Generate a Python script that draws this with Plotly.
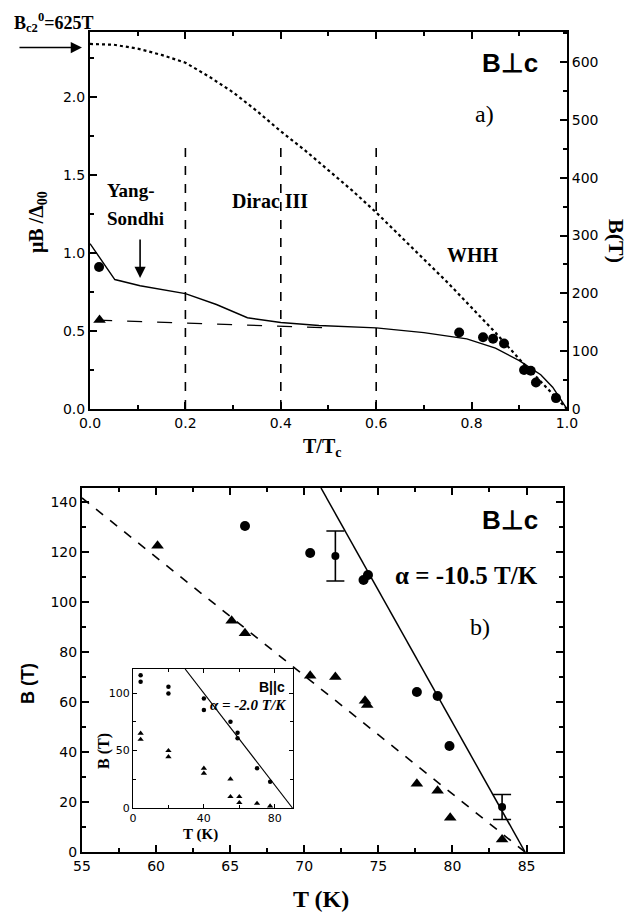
import plotly.graph_objects as go

# ---------------- Panel a) data ----------------
whh_t = [0, 0.05, 0.1, 0.15, 0.2, 0.25, 0.3, 0.35, 0.4, 0.45, 0.5, 0.55, 0.6, 0.65, 0.7, 0.75, 0.8, 0.85, 0.9, 0.95, 1.0]
whh_y = [2.34, 2.335, 2.31, 2.27, 2.22, 2.13, 2.03, 1.91, 1.78, 1.66, 1.53, 1.40, 1.26, 1.11, 0.96, 0.81, 0.65, 0.49, 0.32, 0.16, 0.0]

solid_t = [0, 0.052, 0.105, 0.2, 0.265, 0.33, 0.4, 0.48, 0.6, 0.7, 0.79, 0.85, 0.9, 0.945, 0.97, 1.0]
solid_y = [1.06, 0.83, 0.79, 0.74, 0.67, 0.585, 0.555, 0.535, 0.52, 0.49, 0.45, 0.39, 0.31, 0.22, 0.14, 0.0]

dash_t = [0.015, 0.5]
dash_y = [0.57, 0.52]

circ_t = [0.019, 0.774, 0.824, 0.845, 0.868, 0.91, 0.924, 0.935, 0.977]
circ_y = [0.91, 0.49, 0.46, 0.45, 0.42, 0.25, 0.245, 0.17, 0.07]

tri_t = [0.02]
tri_y = [0.57]

region_bounds = [0.2, 0.4, 0.6]
region_top = 1.69

bc2_0 = 625  # T

# ---------------- Panel b) data ----------------
b_circ_T = [66.0, 70.4, 74.0, 74.3, 77.6, 79.0, 79.8]
b_circ_B = [130.4, 119.6, 108.8, 110.8, 64.0, 62.4, 42.4]
b_err_T = [72.1, 83.35]
b_err_B = [118.4, 18.0]
b_err_v = [10.0, 5.0]

b_tri_T = [60.1, 65.1, 66.0, 70.4, 72.1, 74.1, 74.25, 77.6, 79.0, 79.85, 83.35]
b_tri_B = [122.5, 92.5, 87.5, 70.5, 70.0, 60.5, 58.8, 27.3, 24.5, 13.7, 5.0]

solid_fit_T = [71.13, 84.9]
solid_fit_B = [145.6, 0.0]
dash_fit_T = [55.0, 84.9]
dash_fit_B = [141.6, 0.0]

# ---------------- Inset data ----------------
in_circ_T = [4.3, 4.3, 20, 20, 40, 40, 55, 59, 59, 70, 77.4]
in_circ_B = [115.6, 109.8, 105.5, 99.7, 95.3, 85.2, 75.0, 65.5, 60.6, 34.5, 22.9]
in_tri_T = [4.3, 4.3, 20, 20, 40, 40, 55, 55, 60, 60, 70, 77.4]
in_tri_B = [65.0, 59.7, 49.9, 44.6, 34.5, 30.2, 25.2, 9.9, 9.9, 4.6, 4.0, 1.7]
in_fit_T = [29.4, 90.0]
in_fit_B = [121.0, 0.0]

fig = go.Figure()

# Panel a traces
fig.add_trace(go.Scatter(x=whh_t, y=whh_y, mode='lines', line=dict(color='black', width=2.2, dash='dot'),
                         xaxis='x', yaxis='y', showlegend=False))
fig.add_trace(go.Scatter(x=solid_t, y=solid_y, mode='lines', line=dict(color='black', width=1.4),
                         xaxis='x', yaxis='y', showlegend=False))
fig.add_trace(go.Scatter(x=dash_t, y=dash_y, mode='lines', line=dict(color='black', width=1.2, dash='longdash'),
                         xaxis='x', yaxis='y', showlegend=False))
for xb in region_bounds:
    fig.add_trace(go.Scatter(x=[xb, xb], y=[0, region_top], mode='lines',
                             line=dict(color='black', width=1.6, dash='dash'),
                             xaxis='x', yaxis='y', showlegend=False))
fig.add_trace(go.Scatter(x=circ_t, y=circ_y, mode='markers', marker=dict(symbol='circle', size=10, color='black'),
                         xaxis='x', yaxis='y', showlegend=False, cliponaxis=False))
fig.add_trace(go.Scatter(x=tri_t, y=tri_y, mode='markers', marker=dict(symbol='triangle-up', size=11, color='black'),
                         xaxis='x', yaxis='y', showlegend=False, cliponaxis=False))
# invisible trace to activate right axis
fig.add_trace(go.Scatter(x=[0.5], y=[300], mode='markers', marker=dict(opacity=0),
                         xaxis='x', yaxis='y2', showlegend=False, hoverinfo='skip'))

# Panel b traces
fig.add_trace(go.Scatter(x=solid_fit_T, y=solid_fit_B, mode='lines', line=dict(color='black', width=1.5),
                         xaxis='x2', yaxis='y3', showlegend=False))
fig.add_trace(go.Scatter(x=dash_fit_T, y=dash_fit_B, mode='lines', line=dict(color='black', width=1.6, dash='dash'),
                         xaxis='x2', yaxis='y3', showlegend=False))
fig.add_trace(go.Scatter(x=b_circ_T, y=b_circ_B, mode='markers', marker=dict(symbol='circle', size=10, color='black'),
                         xaxis='x2', yaxis='y3', showlegend=False))
fig.add_trace(go.Scatter(x=b_err_T, y=b_err_B, mode='markers', marker=dict(symbol='circle', size=8, color='black'),
                         error_y=dict(type='data', array=b_err_v, visible=True, color='black', thickness=1.6, width=9),
                         xaxis='x2', yaxis='y3', showlegend=False))
fig.add_trace(go.Scatter(x=b_tri_T, y=b_tri_B, mode='markers', marker=dict(symbol='triangle-up', size=11, color='black'),
                         xaxis='x2', yaxis='y3', showlegend=False))

# Inset traces
fig.add_trace(go.Scatter(x=in_fit_T, y=in_fit_B, mode='lines', line=dict(color='black', width=1.1),
                         xaxis='x3', yaxis='y4', showlegend=False))
fig.add_trace(go.Scatter(x=in_circ_T, y=in_circ_B, mode='markers', marker=dict(symbol='circle', size=4.5, color='black'),
                         xaxis='x3', yaxis='y4', showlegend=False))
fig.add_trace(go.Scatter(x=in_tri_T, y=in_tri_B, mode='markers', marker=dict(symbol='triangle-up', size=5.5, color='black'),
                         xaxis='x3', yaxis='y4', showlegend=False))

tickfont = dict(family='DejaVu Sans, Liberation Sans, Arial', size=14, color='black')
ax_common = dict(showline=True, linecolor='black', ticks='inside', tickcolor='black',
                 showgrid=False, zeroline=False, tickfont=tickfont)
inset_font = dict(family='DejaVu Sans, Liberation Sans, Arial', size=11, color='black')

fig.update_layout(
    width=633, height=913, margin=dict(l=0, r=0, t=0, b=0, autoexpand=False),
    paper_bgcolor='white', plot_bgcolor='white', showlegend=False,
    xaxis=dict(domain=[0.1422, 0.8957], anchor='y', range=[0, 1], dtick=0.2, tickformat='.1f',
               linewidth=2, ticklen=7, tickwidth=2, mirror='ticks',
               minor=dict(dtick=0.1, ticks='inside', ticklen=4, tickcolor='black', tickwidth=1.5), **ax_common),
    yaxis=dict(domain=[0.552, 0.965], anchor='x', range=[0, 2.417], dtick=0.5, tickformat='.1f',
               linewidth=2, ticklen=7, tickwidth=2, mirror=False,
               minor=dict(dtick=0.25, ticks='inside', ticklen=4, tickcolor='black', tickwidth=1.5), **ax_common),
    yaxis2=dict(overlaying='y', side='right', anchor='x', range=[0, 652], dtick=100,
                linewidth=2, ticklen=7, tickwidth=2,
                minor=dict(dtick=50, ticks='inside', ticklen=4, tickcolor='black', tickwidth=1.5), **ax_common),
    xaxis2=dict(domain=[0.1295, 0.8894], anchor='y3', range=[55, 87.46], dtick=5,
                linewidth=2, ticklen=7, tickwidth=2, mirror='ticks',
                minor=dict(dtick=2.5, ticks='inside', ticklen=4, tickcolor='black', tickwidth=1.5), **ax_common),
    yaxis3=dict(domain=[0.0668, 0.4655], anchor='x2', range=[0, 145.6], dtick=20,
                linewidth=2, ticklen=7, tickwidth=2, mirror='ticks',
                minor=dict(dtick=10, ticks='inside', ticklen=4, tickcolor='black', tickwidth=1.5), **ax_common),
    xaxis3=dict(domain=[0.2101, 0.4629], anchor='y4', range=[0, 90.3], dtick=40,
                linewidth=1, ticklen=4, tickwidth=1, mirror='ticks',
                minor=dict(dtick=20, ticks='inside', ticklen=3, tickcolor='black'),
                showline=True, linecolor='black', ticks='inside', tickcolor='black',
                showgrid=False, zeroline=False, tickfont=inset_font),
    yaxis4=dict(domain=[0.115, 0.2673], anchor='x3', range=[0, 121], dtick=50,
                linewidth=1, ticklen=4, tickwidth=1, mirror='ticks',
                minor=dict(dtick=25, ticks='inside', ticklen=3, tickcolor='black'),
                showline=True, linecolor='black', ticks='inside', tickcolor='black',
                showgrid=False, zeroline=False, tickfont=inset_font),
)

serif_b = 'Liberation Serif, Times New Roman'
sans_b = 'Liberation Sans, Arial'


def ann(text, x, y, size, family=serif_b, angle=0, xanchor='center', yanchor='middle', align='center'):
    fig.add_annotation(text=text, x=x, y=y, xref='paper', yref='paper', showarrow=False,
                       font=dict(family=family, size=size, color='black'), textangle=angle,
                       xanchor=xanchor, yanchor=yanchor, align=align)


# Panel a texts
ann('<b>B<sub>c2</sub><sup>0</sup>=625T</b>', 0.0853, 0.9759, 18)
ann('<b>B\u22a5c</b>', 0.853, 0.931, 26, family=sans_b, xanchor='right')
ann('a)', 0.766, 0.875, 24)
ann('<b>Yang-</b>', 0.1659, 0.7908, 19, xanchor='left')
ann('<b>Sondhi</b>', 0.1659, 0.7612, 19, xanchor='left')
ann('<b>Dirac III</b>', 0.4265, 0.7798, 20)
ann('<b>WHH</b>', 0.7472, 0.7207, 20)
ann('<b>\u03bcB /\u0394<sub>00</sub></b>', 0.0585, 0.7568, 20, angle=-90)
ann('<b>B(T)</b>', 0.9747, 0.736, 22, angle=90)
ann('<b>T/T<sub>c</sub></b>', 0.5087, 0.5104, 20)

# Arrows in panel a
fig.add_annotation(x=0.1295, y=bc2_0, xref='paper', yref='y2', ax=-64, ay=0, text='', showarrow=True,
                   arrowhead=2, arrowsize=1.4, arrowwidth=1.6, arrowcolor='black')
fig.add_annotation(x=0.105, y=0.84, xref='x', yref='y', ax=0, ay=-40, text='', showarrow=True,
                   arrowhead=2, arrowsize=1.4, arrowwidth=1.6, arrowcolor='black')

# Panel b texts
ann('<b>B\u22a5c</b>', 0.853, 0.4305, 26, family=sans_b, xanchor='right')
ann('<b>\u03b1 = -10.5 T/K</b>', 0.7362, 0.3702, 25)
ann('b)', 0.7583, 0.3133, 24)
ann('<b>B (T)</b>', 0.0442, 0.2519, 18, family=sans_b, angle=-90)
ann('<b>T (K)</b>', 0.5071, 0.0153, 24)

# Inset texts
ann('<b>B||c</b>', 0.4534, 0.2475, 14, family=sans_b, xanchor='right')
ann('<b><i>\u03b1 = -2.0 T/K</i></b>', 0.455, 0.2278, 15, xanchor='right')
ann('<b>T (K)</b>', 0.316, 0.0975, 15, yanchor='top')
ann('<b>B (T)</b>', 0.1643, 0.1774, 16, angle=-90)

fig.write_html('out.html', config={'displayModeBar': False},
               post_script="document.body.style.margin='0px';")
